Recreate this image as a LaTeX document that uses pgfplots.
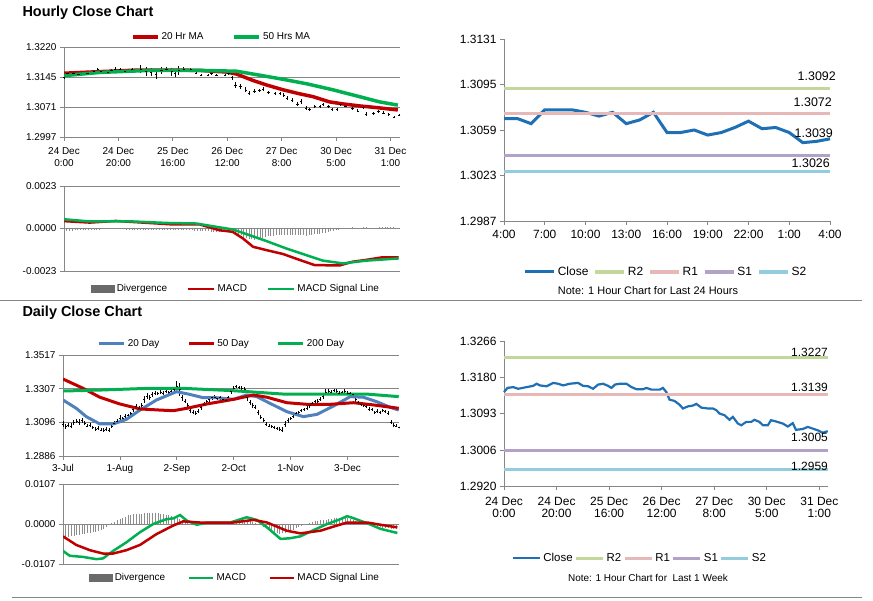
\documentclass[border=0pt]{standalone}
\usepackage{fontspec}
\setmainfont{Liberation Sans}
\usepackage{pgfplots}
\pgfplotsset{compat=1.18}
\usepackage{pgfplotstable}

\definecolor{maRed}{HTML}{C00000}
\definecolor{maGreen}{HTML}{00B050}
\definecolor{maBlue}{HTML}{4F81BD}
\definecolor{closeBlue}{HTML}{1F6FB5}
\definecolor{rTwo}{HTML}{C3D69B}
\definecolor{rOne}{HTML}{E6B9B8}
\definecolor{sOne}{HTML}{B3A2C7}
\definecolor{sTwo}{HTML}{93CDDD}
\definecolor{axisGray}{HTML}{868686}
\definecolor{divGray}{HTML}{8C8C8C}
\definecolor{divDark}{HTML}{6A6A6A}

\newcommand{\fs}[1]{\fontsize{#1}{#1}\selectfont}

% hourly close (24 Dec 0:00 .. 31 Dec 1:00), x = trading hour index, e = half range
\pgfplotstableread[row sep=\\]{
i c e\\
0 1.3144 0.0004\\ 1.3 1.3154 0.0004\\ 3.5 1.3156 0.0004\\ 5.4 1.3152 0.0004\\
8.6 1.3156 0.0004\\ 11.1 1.3159 0.0005\\ 12.4 1.3164 0.0005\\ 13.7 1.3160 0.0004\\
16.2 1.3158 0.0004\\ 17.5 1.3162 0.0004\\ 18.7 1.3166 0.0004\\ 20.6 1.3164 0.0004\\
22.5 1.3160 0.0004\\ 25 1.3164 0.0005\\ 28.2 1.3166 0.0010\\ 30.1 1.3159 0.0012\\
32 1.3158 0.0010\\ 33.9 1.3152 0.0012\\ 35.8 1.3162 0.0008\\ 37.7 1.3164 0.0006\\
39.6 1.3159 0.0010\\ 40.9 1.3154 0.0008\\ 42.2 1.3162 0.0012\\ 44 1.3164 0.0006\\
46.6 1.3164 0.0004\\ 48.5 1.3156 0.0003\\ 50.4 1.3151 0.0003\\ 52.9 1.3151 0.0003\\
54.2 1.3154 0.0003\\ 56.1 1.3150 0.0003\\ 59.2 1.3150 0.0003\\ 60.5 1.3154 0.0003\\
61.8 1.3144 0.0005\\ 63 1.3126 0.0008\\ 64.9 1.3123 0.0006\\ 66.8 1.3114 0.0006\\
68.1 1.3105 0.0005\\ 70 1.3110 0.0005\\ 71.9 1.3112 0.0004\\ 73.2 1.3116 0.0004\\
75.1 1.3107 0.0004\\ 77.6 1.3105 0.0004\\ 79.5 1.3105 0.0004\\ 80.8 1.3101 0.0004\\
82 1.3093 0.0005\\ 83.9 1.3089 0.0005\\ 85.8 1.3078 0.0005\\ 87.1 1.3085 0.0005\\
89 1.3069 0.0004\\ 90.3 1.3065 0.0004\\ 92.2 1.3073 0.0004\\ 94.1 1.3073 0.0004\\
95.3 1.3078 0.0004\\ 97.2 1.3073 0.0004\\ 98.5 1.3065 0.0003\\ 100.4 1.3065 0.0003\\
101.6 1.3077 0.0004\\ 103.5 1.3074 0.0003\\ 106.1 1.3069 0.0004\\ 108 1.3062 0.0004\\
109.9 1.3070 0.0004\\ 111.1 1.3054 0.0004\\ 113.7 1.3056 0.0004\\ 115.6 1.3061 0.0004\\
117.5 1.3057 0.0004\\ 119.4 1.3053 0.0004\\ 121.3 1.3047 0.0003\\ 123.2 1.3051 0.0003\\
}\hourly

% daily close, x = trading day index from 3-Jul
\pgfplotstableread[row sep=\\]{
i c e\\
0 1.3085 0.0020\\ 1 1.3070 0.0015\\ 2 1.3080 0.0012\\ 3 1.3075 0.0015\\ 4 1.3095 0.0018\\
5 1.3105 0.0015\\ 6 1.3100 0.0020\\ 7 1.3110 0.0015\\ 8 1.3090 0.0012\\ 9 1.3075 0.0010\\
10 1.3080 0.0012\\ 11 1.3065 0.0010\\ 12 1.3055 0.0010\\ 13 1.3060 0.0012\\ 14 1.3050 0.0010\\
15 1.3048 0.0010\\ 16 1.3055 0.0012\\ 17 1.3050 0.0012\\ 18 1.3070 0.0010\\ 19 1.3090 0.0012\\
20 1.3105 0.0010\\ 21 1.3125 0.0015\\ 22 1.3120 0.0012\\ 23 1.3135 0.0012\\ 24 1.3140 0.0010\\
25 1.3150 0.0012\\ 26 1.3175 0.0015\\ 27 1.3195 0.0018\\ 28 1.3185 0.0015\\ 29 1.3200 0.0015\\
30 1.3240 0.0020\\ 31 1.3260 0.0018\\ 32 1.3250 0.0015\\ 33 1.3270 0.0015\\ 34 1.3280 0.0012\\
35 1.3275 0.0010\\ 36 1.3285 0.0012\\ 37 1.3280 0.0010\\ 38 1.3290 0.0012\\ 39 1.3285 0.0010\\
40 1.3290 0.0015\\ 41 1.3300 0.0015\\ 42 1.3320 0.0035\\ 43 1.3300 0.0040\\ 44 1.3250 0.0020\\
45 1.3230 0.0015\\ 46 1.3200 0.0015\\ 47 1.3170 0.0015\\ 48 1.3160 0.0012\\ 49 1.3155 0.0015\\
50 1.3165 0.0012\\ 51 1.3190 0.0015\\ 52 1.3210 0.0012\\ 53 1.3225 0.0012\\ 54 1.3240 0.0015\\
55 1.3250 0.0012\\ 56 1.3255 0.0012\\ 57 1.3245 0.0010\\ 58 1.3250 0.0012\\ 59 1.3240 0.0010\\
60 1.3235 0.0012\\ 61 1.3250 0.0012\\ 62 1.3290 0.0015\\ 63 1.3310 0.0012\\ 64 1.3320 0.0012\\
65 1.3315 0.0010\\ 66 1.3310 0.0012\\ 67 1.3305 0.0015\\ 68 1.3250 0.0020\\ 69 1.3220 0.0015\\
70 1.3200 0.0015\\ 71 1.3190 0.0012\\ 72 1.3160 0.0015\\ 73 1.3130 0.0015\\ 74 1.3110 0.0012\\
75 1.3085 0.0012\\ 76 1.3075 0.0010\\ 77 1.3070 0.0010\\ 78 1.3065 0.0010\\ 79 1.3060 0.0010\\
80 1.3055 0.0012\\ 81 1.3050 0.0015\\ 82 1.3085 0.0020\\ 83 1.3110 0.0015\\ 84 1.3120 0.0012\\
85 1.3135 0.0012\\ 86 1.3150 0.0012\\ 87 1.3160 0.0010\\ 88 1.3170 0.0012\\ 89 1.3175 0.0010\\
90 1.3185 0.0012\\ 91 1.3200 0.0012\\ 92 1.3215 0.0010\\ 93 1.3225 0.0012\\ 94 1.3230 0.0010\\
95 1.3240 0.0012\\ 96 1.3260 0.0015\\ 97 1.3285 0.0018\\ 98 1.3290 0.0012\\ 99 1.3285 0.0012\\
100 1.3295 0.0010\\ 101 1.3290 0.0012\\ 102 1.3280 0.0012\\ 103 1.3285 0.0010\\ 104 1.3290 0.0012\\
105 1.3280 0.0010\\ 106 1.3275 0.0012\\ 107 1.3270 0.0012\\ 108 1.3240 0.0015\\ 109 1.3220 0.0012\\
110 1.3210 0.0012\\ 111 1.3200 0.0010\\ 112 1.3195 0.0012\\ 113 1.3180 0.0012\\ 114 1.3175 0.0010\\
115 1.3160 0.0010\\ 116 1.3165 0.0012\\ 117 1.3160 0.0010\\ 118 1.3170 0.0012\\ 119 1.3165 0.0010\\
120 1.3155 0.0012\\ 121 1.3100 0.0012\\ 122 1.3080 0.0010\\ 123 1.3075 0.0010\\ 124 1.3065 0.0010\\
}\daily

\pgfplotsset{
  base/.style={scale only axis, enlargelimits=false, axis lines*=left,
    axis line style={-, axisGray, line width=0.75bp},
    every tick/.style={axisGray, line width=0.75bp},
    tick align=outside, major tick length=4bp,
    grid style={axisGray, line width=0.75bp},
    scaled y ticks=false,
    legend style={draw=none, fill=none, anchor=center, legend columns=-1, inner sep=0pt},
    legend cell align=left,
    xticklabel style={align=center},
  },
  smallfont/.style={tick label style={font=\fontsize{10}{12.5}\selectfont},
    legend style={font=\fs{10}}},
  bigfont/.style={tick label style={font=\fontsize{12}{12}\selectfont},
    legend style={font=\fs{12}}},
}

\begin{document}
\begin{tikzpicture}
\useasboundingbox (0bp,0bp) rectangle (873bp,-601bp);

% section titles and rules
\node[anchor=west, font=\bfseries\fs{14.5}] at (19bp,-13bp) {Hourly Close Chart};
\node[anchor=west, font=\bfseries\fs{14.5}] at (19bp,-313bp) {Daily Close Chart};
\draw[axisGray, line width=1bp] (0bp,-300bp) -- (862bp,-300bp);
\draw[axisGray, line width=1bp] (12bp,-597bp) -- (862bp,-597bp);
\node[font=\fs{11}] at (648bp,-291bp) {Note: 1 Hour Chart for Last 24 Hours};
\node[font=\fs{10}] at (648bp,-578bp) {Note: 1 Hour Chart for\ \ Last 1 Week};

% ---- hourly price with moving averages
\begin{axis}[base, smallfont, at={(64bp,-137bp)}, anchor=south west,
  width=336bp, height=90bp, xmin=0, xmax=123.5, ymin=1.2997, ymax=1.3220,
  ymajorgrids, ytick={1.2997,1.3071,1.3145,1.3220},
  yticklabels={1.2997,1.3071,1.3145,1.3220},
  xtick={0,20,...,120}, xticklabel style={yshift=-3bp},
  xticklabels={{24 Dec\\0:00},{24 Dec\\20:00},{25 Dec\\16:00},{26 Dec\\12:00},{27 Dec\\8:00},{30 Dec\\5:00},{31 Dec\\1:00}},
  legend style={at={(0.469,1.111)}, /tikz/every even column/.append style={column sep=27bp}},
  legend image code/.code={\draw[#1] (0bp,0bp) -- (25bp,0bp);}]
\addplot[forget plot, only marks, mark=-, mark size=1.2bp, black, line width=0.5bp,
  error bars/.cd, y dir=both, y explicit, error mark=none,
  error bar style={black, line width=0.7bp}] table[x=i, y=c, y error=e] {\hourly};
\addplot[maRed, line width=3.5bp] coordinates {(0,1.3155)(13.2,1.3159)(27.9,1.3163)(40.1,1.3163)(49.9,1.3162)(59.7,1.3158)(63.4,1.3153)(69.5,1.3137)(74.4,1.3126)(80.5,1.3114)(86.6,1.3104)(91.5,1.3097)(97.6,1.3084)(102.5,1.3079)(108.6,1.3074)(114.7,1.3070)(122.7,1.3064)};
\addplot[maGreen, line width=3.5bp] coordinates {(0,1.3149)(13.2,1.3157)(31.6,1.3162)(49.9,1.3162)(63.4,1.3160)(69.5,1.3153)(80.5,1.3140)(89.1,1.3129)(98.8,1.3114)(108.6,1.3097)(116,1.3084)(122.7,1.3076)};
\legend{20 Hr MA, 50 Hrs MA}
\end{axis}

% ---- hourly MACD
\begin{axis}[base, smallfont, at={(64bp,-271bp)}, anchor=south west,
  width=336bp, height=85bp, xmin=0, xmax=123.5, ymin=-0.0023, ymax=0.0023,
  ymajorgrids, ytick={-0.0023,0,0.0023}, yticklabels={-0.0023,0.0000,0.0023},
  xtick=\empty,
  legend style={at={(0.512,-0.212)}, /tikz/every even column/.append style={column sep=18bp}},
  legend image code/.code={\draw[#1] (0bp,0bp) -- (26bp,0bp);}]
\addplot[ycomb, divGray, line width=0.6bp,
  legend image code/.code={\fill[divDark] (0bp,-3.5bp) rectangle (23bp,3.5bp);}]
  coordinates {
(0,-0.00012)(1,-0.00012)(2,-0.00011)(3,-0.00011)(4,-0.0001)(5,-0.0001)(6,-0.00009)(7,-0.00009)(8,-0.00008)(9,-0.00008)(10,-0.00006)
(11,-0.00005)(12,-0.00003)(13,-0.00002)(14,0)(15,0.00001)(16,0.00002)(17,0.00003)(18,0.00003)(19,0.00003)(20,0.00002)
(21,0.00001)(22,0)(23,-0.00001)(24,-0.00002)(25,-0.00003)(26,-0.00004)(27,-0.00004)(28,-0.00005)(29,-0.00005)(30,-0.00005)
(31,-0.00006)(32,-0.00007)(33,-0.00008)(34,-0.00007)(35,-0.00006)(36,-0.00005)(37,-0.00006)(38,-0.00007)(39,-0.00008)(40,-0.00009)
(41,-0.00008)(42,-0.00007)(43,-0.00006)(44,-0.00006)(45,-0.00007)(46,-0.00008)(47,-0.0001)(48,-0.00012)(49,-0.00013)(50,-0.00014)
(51,-0.00015)(52,-0.00016)(53,-0.00016)(54,-0.00017)(55,-0.00018)(56,-0.00018)(57,-0.00018)(58,-0.00017)(59,-0.00016)(60,-0.00015)
(61,-0.00016)(62,-0.00018)(63,-0.00024)(64,-0.0003)(65,-0.00037)(66,-0.00044)(67,-0.0005)(68,-0.00055)(69,-0.00058)(70,-0.0006)
(71,-0.00058)(72,-0.00055)(73,-0.0005)(74,-0.00046)(75,-0.00043)(76,-0.0004)(77,-0.00038)(78,-0.00036)(79,-0.00035)(80,-0.00034)
(81,-0.00035)(82,-0.00036)(83,-0.00035)(84,-0.00034)(85,-0.00033)(86,-0.00034)(87,-0.00036)(88,-0.00037)(89,-0.00038)(90,-0.00036)
(91,-0.00034)(92,-0.00032)(93,-0.0003)(94,-0.00028)(95,-0.00026)(96,-0.00024)(97,-0.0002)(98,-0.00016)(99,-0.00012)(100,-0.00008)
(101,-0.00004)(102,0)(103,0.00002)(104,0.00004)(105,0.00005)(106,0.00006)(107,0.00005)(108,0.00004)(109,0.00005)(110,0.00006)
(111,0.00006)(112,0.00005)(113,0.00004)(114,0.00004)(115,0.00005)(116,0.00007)(117,0.00008)(118,0.00008)(119,0.00007)(120,0.00006)
(121,0.00006)(122,0.00005)(123,0.00005)};
\addplot[maRed, line width=2.5bp] coordinates {(0,0.0004)(9.5,0.00032)(19,0.00041)(29,0.00032)(40,0.00022)(49.9,0.00022)(57,-0.00009)(62,-0.00018)(65.8,-0.00054)(69.5,-0.00099)(74.4,-0.00117)(80.5,-0.00138)(86.6,-0.0017)(92.1,-0.00198)(101.3,-0.0020)(106,-0.0018)(111,-0.0017)(117,-0.00156)(123,-0.00156)};
\addplot[maGreen, line width=2.5bp] coordinates {(0,0.0005)(9.5,0.00038)(25.4,0.00038)(37.7,0.0003)(48.7,0.00027)(56,0.00009)(62,-0.00005)(68.2,-0.00036)(74.4,-0.00068)(81.7,-0.00108)(89,-0.00144)(95.2,-0.00174)(102.5,-0.00189)(111,-0.00174)(123,-0.00162)};
\legend{Divergence, MACD, MACD Signal Line}
\end{axis}

% ---- last 24 hours with pivots
\begin{axis}[base, bigfont, at={(504bp,-221bp)}, anchor=south west, clip=false,
  width=326bp, height=182bp, xmin=0, xmax=24, ymin=1.2987, ymax=1.3131,
  ytick={1.2987,1.3023,1.3059,1.3095,1.3131},
  yticklabels={1.2987,1.3023,1.3059,1.3095,1.3131},
  xtick={0,3,...,24}, xticklabels={4:00,7:00,10:00,13:00,16:00,19:00,22:00,1:00,4:00},
  xticklabel style={yshift=-2bp},
  legend style={at={(0.497,-0.280)}, /tikz/every even column/.append style={column sep=3bp}},
  legend image code/.code={\draw[#1] (0bp,0bp) -- (29bp,0bp);}]
\addplot[closeBlue, line width=3bp] coordinates {(0,1.3068)(1,1.3068)(2,1.3064)(3,1.3075)(4,1.3075)(5,1.3075)(6,1.3073)(7,1.3070)(8,1.3073)(9,1.3064)(10,1.3067)(11,1.3073)(12,1.3057)(13,1.3057)(14,1.3059)(15,1.3055)(16,1.3057)(17,1.3061)(18,1.3066)(19,1.3060)(20,1.3061)(21,1.3057)(22,1.3049)(23,1.3050)(24,1.3052)};
\addplot[rTwo, line width=3.5bp] coordinates {(0,1.3092)(24,1.3092)};
\addplot[rOne, line width=3.5bp] coordinates {(0,1.3072)(24,1.3072)};
\addplot[sOne, line width=3.5bp] coordinates {(0,1.3039)(24,1.3039)};
\addplot[sTwo, line width=3.5bp] coordinates {(0,1.3026)(24,1.3026)};
\legend{Close, R2, R1, S1, S2}
\node[anchor=east, inner sep=0pt, font=\fs{12.5}, yshift=11.7bp, xshift=6bp] at (axis cs:24,1.3092) {1.3092};
\node[anchor=east, inner sep=0pt, font=\fs{12.5}, yshift=11bp, xshift=2bp] at (axis cs:24,1.3072) {1.3072};
\node[anchor=east, inner sep=0pt, font=\fs{12.5}, yshift=21.7bp, xshift=3bp] at (axis cs:24,1.3039) {1.3039};
\node[anchor=east, inner sep=0pt, font=\fs{12.5}, yshift=8bp, xshift=0bp] at (axis cs:24,1.3026) {1.3026};
\end{axis}

% ---- daily price with moving averages
\begin{axis}[base, smallfont, at={(63bp,-456bp)}, anchor=south west,
  width=336bp, height=101bp, xmin=0, xmax=124, ymin=1.2886, ymax=1.3517,
  ymajorgrids, ytick={1.2886,1.3096,1.3307,1.3517},
  yticklabels={1.2886,1.3096,1.3307,1.3517},
  xtick={0,21,42,63,84,105}, xticklabels={3-Jul,1-Aug,2-Sep,2-Oct,1-Nov,3-Dec},
  xticklabel style={yshift=-1bp},
  legend style={at={(0.473,1.109)}, /tikz/every even column/.append style={column sep=26bp}},
  legend image code/.code={\draw[#1] (0bp,0bp) -- (25bp,0bp);}]
\addplot[forget plot, only marks, mark=-, mark size=1bp, black, line width=0.5bp,
  error bars/.cd, y dir=both, y explicit, error mark=none,
  error bar style={black, line width=0.7bp}] table[x=i, y=c, y error=e] {\daily};
\addplot[maBlue, line width=3bp] coordinates {(0,1.3236)(4.9,1.3184)(8.6,1.3132)(13.6,1.3086)(18.5,1.3086)(23.4,1.3115)(28.4,1.3173)(34.5,1.3236)(41.9,1.3288)(46.8,1.3271)(51.8,1.3250)(56.7,1.3250)(62.9,1.3240)(67.8,1.3267)(71.5,1.3257)(76.4,1.3215)(82.6,1.3163)(88.7,1.3132)(93.7,1.3146)(99.8,1.3198)(106,1.3257)(110.9,1.3253)(115.8,1.3225)(120.8,1.3190)(123.9,1.3173)};
\addplot[maRed, line width=3bp] coordinates {(0,1.3367)(7.4,1.3309)(13.6,1.3253)(21,1.3211)(28.4,1.3180)(35.8,1.3173)(40.7,1.3169)(45.7,1.3184)(53.1,1.3211)(62.9,1.3240)(70.3,1.3267)(75.3,1.3253)(82.6,1.3219)(90,1.3209)(98.6,1.3209)(107.2,1.3219)(114.6,1.3205)(123.9,1.3184)};
\addplot[maGreen, line width=3bp] coordinates {(0,1.3292)(13.6,1.3298)(32,1.3309)(44,1.3309)(62.9,1.3294)(81.3,1.3273)(99.8,1.3273)(112,1.3273)(123.9,1.3257)};
\legend{20 Day, 50 Day, 200 Day}
\end{axis}

% ---- daily MACD
\begin{axis}[base, smallfont, at={(63bp,-564bp)}, anchor=south west,
  width=336bp, height=80bp, xmin=0, xmax=124, ymin=-0.0107, ymax=0.0107,
  ymajorgrids, ytick={-0.0107,0,0.0107}, yticklabels={-0.0107,0.0000,0.0107},
  xtick=\empty,
  legend style={at={(0.512,-0.175)}, /tikz/every even column/.append style={column sep=21bp}},
  legend image code/.code={\draw[#1] (0bp,0bp) -- (24bp,0bp);}]
\addplot[ycomb, divGray, line width=0.6bp,
  legend image code/.code={\fill[divDark] (0bp,-3.5bp) rectangle (23bp,3.5bp);}]
  coordinates {
(0,-0.0036)(1,-0.0035)(2,-0.0034)(3,-0.0032)(4,-0.0031)(5,-0.0030)(6,-0.0029)(7,-0.0027)(8,-0.0026)(9,-0.0025)
(10,-0.0024)(11,-0.0022)(12,-0.0021)(13,-0.0019)(14,-0.0017)(15,-0.0013)(16,-0.0008)(17,-0.0003)(18,0.0002)(19,0.0006)
(20,0.0010)(21,0.0014)(22,0.0017)(23,0.0020)(24,0.0023)(25,0.0025)(26,0.0026)(27,0.0027)(28,0.0028)(29,0.0028)
(30,0.0029)(31,0.0029)(32,0.0030)(33,0.0030)(34,0.0030)(35,0.0029)(36,0.0028)(37,0.0027)(38,0.0025)(39,0.0023)
(40,0.0021)(41,0.0019)(42,0.0017)(43,0.0014)(44,0.0010)(45,0.0006)(46,0.0003)(47,0.0001)(48,-0.0002)(49,-0.0003)
(50,-0.0002)(51,-0.0001)(52,0)(53,0)(54,0.0001)(55,0.0001)(56,0)(57,0)(58,0)(59,0.0001)
(60,0.0001)(61,0)(62,0)(63,0.0001)(64,0.0002)(65,0.0004)(66,0.0006)(67,0.0008)(68,0.0009)(69,0.0008)
(70,0.0006)(71,0.0003)(72,0.0001)(73,-0.0003)(74,-0.0007)(75,-0.0011)(76,-0.0015)(77,-0.0019)(78,-0.0022)(79,-0.0024)
(80,-0.0026)(81,-0.0025)(82,-0.0023)(83,-0.0021)(84,-0.0018)(85,-0.0015)(86,-0.0012)(87,-0.0009)(88,-0.0006)(89,-0.0003)
(90,0)(91,0.0003)(92,0.0005)(93,0.0007)(94,0.0009)(95,0.0010)(96,0.0011)(97,0.0012)(98,0.0013)(99,0.0014)
(100,0.0015)(101,0.0016)(102,0.0017)(103,0.0017)(104,0.0017)(105,0.0016)(106,0.0014)(107,0.0012)(108,0.0009)(109,0.0006)
(110,0.0004)(111,0.0002)(112,0)(113,-0.0002)(114,-0.0004)(115,-0.0006)(116,-0.0008)(117,-0.0009)(118,-0.0010)(119,-0.0011)
(120,-0.0012)(121,-0.0013)(122,-0.0013)(123,-0.0014)(124,-0.0015)};
\addplot[maGreen, line width=2.5bp] coordinates {(0,-0.0072)(2.5,-0.0085)(7.4,-0.0088)(12.3,-0.0094)(14.8,-0.0092)(18.5,-0.0072)(23.4,-0.0049)(28.4,-0.0022)(33.3,0)(38.2,0.0013)(40.7,0.0015)(43.2,0.0024)(45.7,0.0009)(49.4,-0.0002)(53.1,0.0004)(61.7,0.0004)(67.8,0.0018)(71.5,0.0011)(75.3,-0.0009)(80.3,-0.0040)(83.9,-0.0038)(87.6,-0.0033)(92.6,-0.0016)(97.5,0)(102.4,0.0013)(104.9,0.0021)(107.4,0.0015)(112.3,0.0002)(117.2,-0.0013)(123.4,-0.0024)};
\addplot[maRed, line width=2.5bp] coordinates {(0,-0.0033)(4.9,-0.0056)(9.9,-0.0070)(14.8,-0.0079)(18.5,-0.0079)(23.4,-0.0070)(28.4,-0.0056)(34.5,-0.0027)(40.7,-0.0004)(44.4,0.0007)(50.5,0.0004)(62.9,0.0004)(70.3,0.0011)(75.3,0.0004)(82.6,-0.0018)(87.6,-0.0025)(95,-0.0018)(99.8,-0.0007)(104.9,0.0004)(112.3,0.0004)(117.2,-0.0002)(123.4,-0.0009)};
\legend{Divergence, MACD, MACD Signal Line}
\end{axis}

% ---- last week hourly with pivots
\begin{axis}[base, bigfont, at={(504bp,-486bp)}, anchor=south west, clip=false,
  width=324bp, height=145bp, xmin=0, xmax=123.3, ymin=1.2920, ymax=1.3266,
  ytick={1.2920,1.3006,1.3093,1.3180,1.3266},
  yticklabels={1.2920,1.3006,1.3093,1.3180,1.3266},
  xtick={0,20,...,120}, xticklabel style={yshift=-4bp},
  xticklabels={{24 Dec\\0:00},{24 Dec\\20:00},{25 Dec\\16:00},{26 Dec\\12:00},{27 Dec\\8:00},{30 Dec\\5:00},{31 Dec\\1:00}},
  legend style={at={(0.420,-0.497)}, font=\fs{11.5}, /tikz/every even column/.append style={column sep=0bp}},
  legend image code/.code={\draw[#1] (0bp,0bp) -- (27bp,0bp);}]
\addplot[closeBlue, line width=2.2bp] table[x=i, y=c] {\hourly};
\addplot[rTwo, line width=3bp] coordinates {(0,1.3227)(123.3,1.3227)};
\addplot[rOne, line width=3bp] coordinates {(0,1.3139)(123.3,1.3139)};
\addplot[sOne, line width=3bp] coordinates {(0,1.3005)(123.3,1.3005)};
\addplot[sTwo, line width=3bp] coordinates {(0,1.2959)(123.3,1.2959)};
\legend{Close, R2, R1, S1, S2}
\node[anchor=east, inner sep=0pt, font=\fs{12}, yshift=5bp] at (axis cs:123.3,1.3227) {1.3227};
\node[anchor=east, inner sep=0pt, font=\fs{12}, yshift=7bp] at (axis cs:123.3,1.3139) {1.3139};
\node[anchor=east, inner sep=0pt, font=\fs{12}, yshift=12.7bp] at (axis cs:123.3,1.3005) {1.3005};
\node[anchor=east, inner sep=0pt, font=\fs{12}, yshift=3.3bp] at (axis cs:123.3,1.2959) {1.2959};
\end{axis}
\end{tikzpicture}
\end{document}
